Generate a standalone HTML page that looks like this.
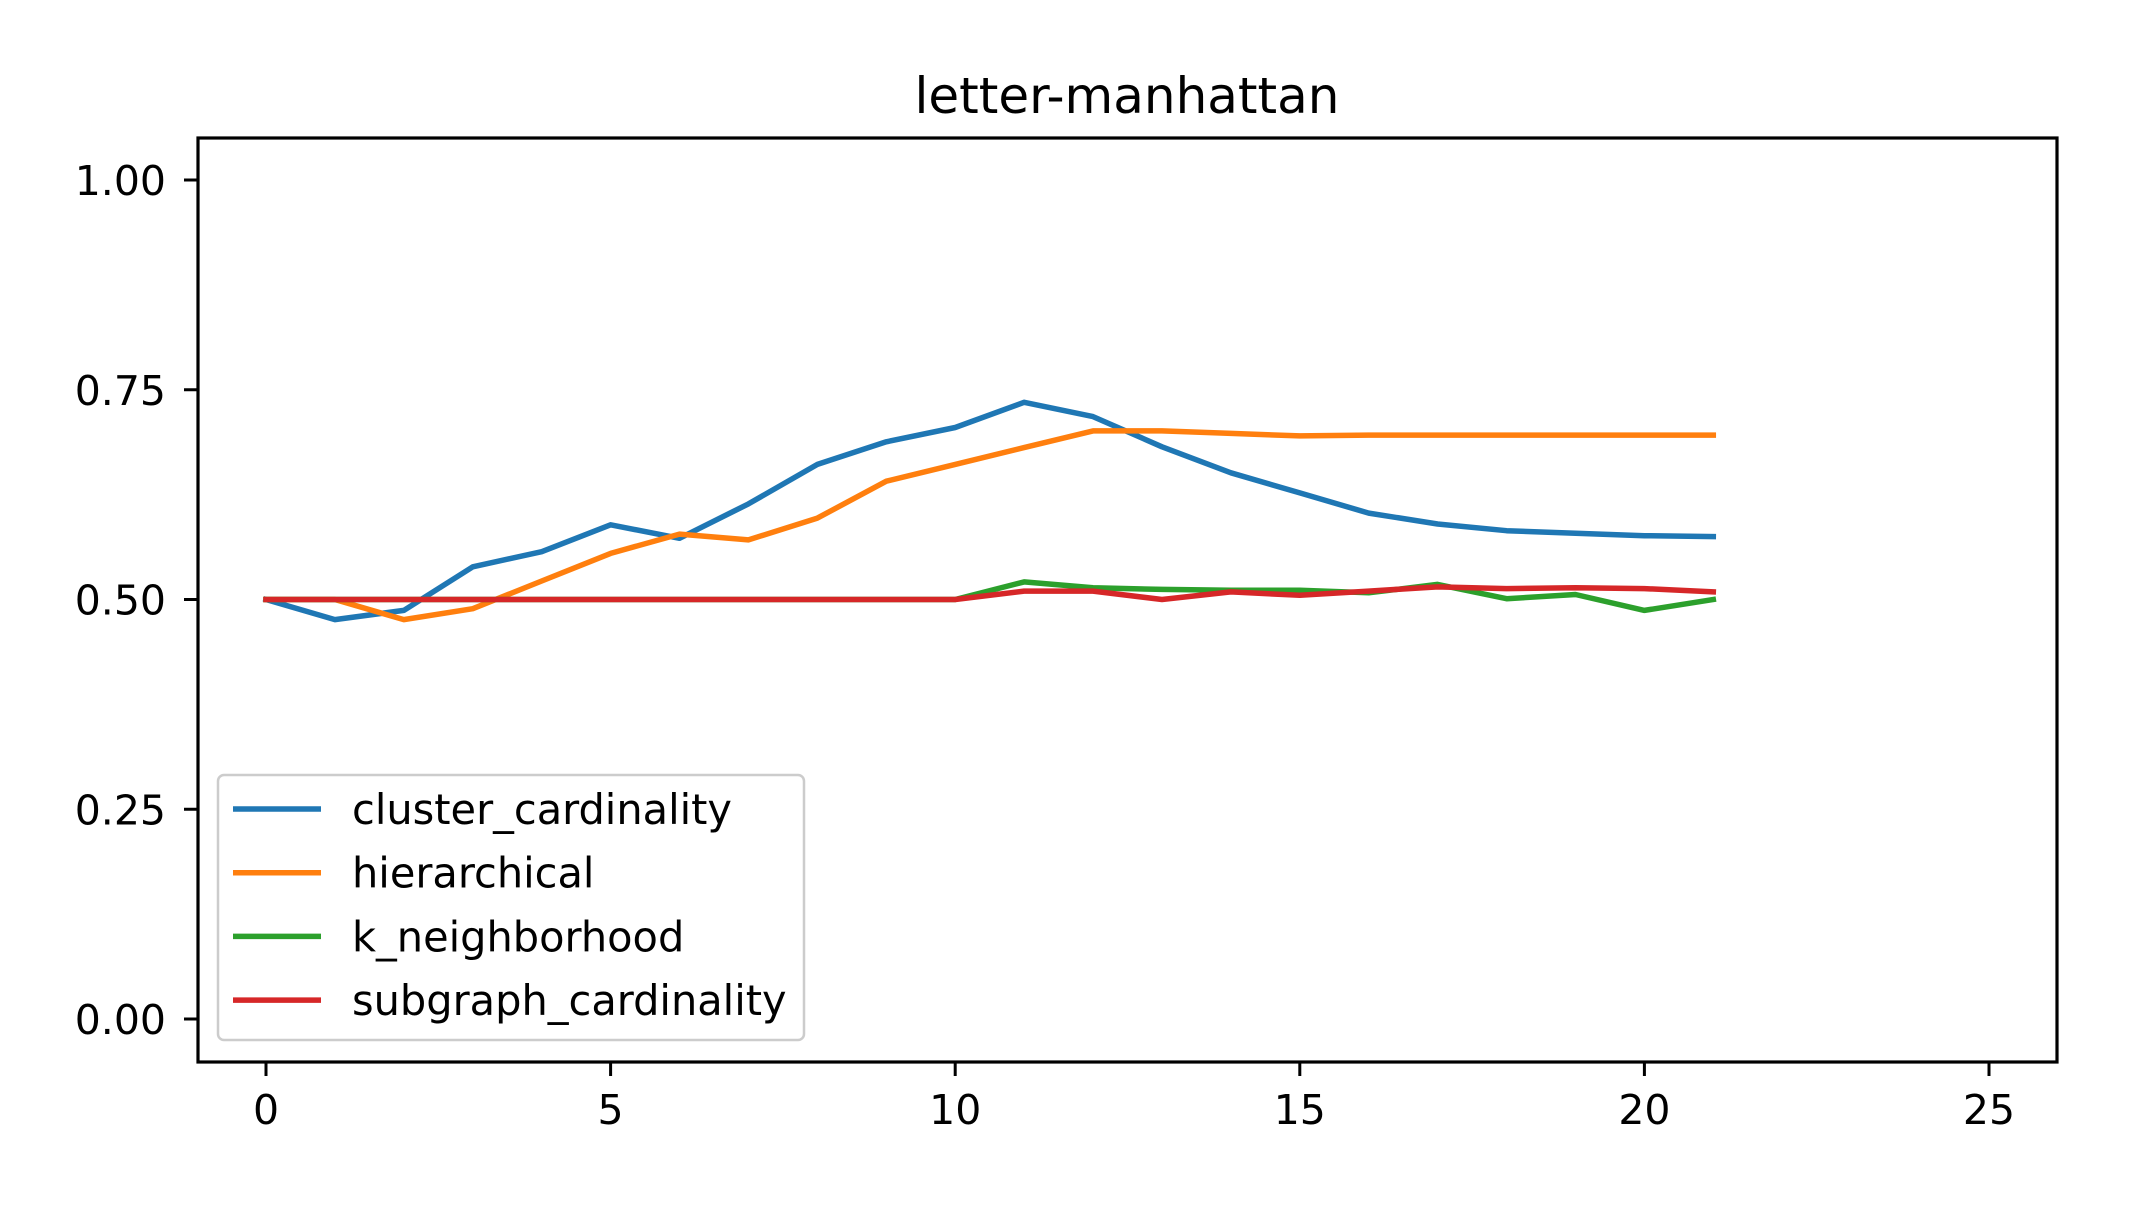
<!DOCTYPE html>
<html><head><meta charset="utf-8"><style>
html,body{margin:0;padding:0;background:#fff}
svg text{font-family:"DejaVu Sans","Liberation Sans",sans-serif;fill:#000}
</style></head><body>
<svg id="chart" width="2131" height="1208" viewBox="0 0 2131 1208" xmlns="http://www.w3.org/2000/svg">
<rect width="2131" height="1208" fill="#fff"/>
<text x="1127" y="113" font-size="50" text-anchor="middle">letter-manhattan</text>
<g id="plot"></g>
<rect x="198" y="138" width="1859" height="924" fill="none" stroke="#000" stroke-width="3.2"/>
<g id="legend"></g>
</svg>
<script>
const xs = [0,1,2,3,4,5,6,7,8,9,10,11,12,13,14,15,16,17,18,19,20,21];
const clusterCard = [0.50,0.476,0.487,0.539,0.557,0.589,0.573,0.614,0.661,0.688,0.705,0.735,0.718,0.682,0.651,0.627,0.603,0.590,0.582,0.579,0.576,0.575];
const hierarchical = [0.50,0.50,0.476,0.489,0.522,0.555,0.578,0.571,0.597,0.641,0.661,0.681,0.701,0.701,0.698,0.695,0.696,0.696,0.696,0.696,0.696,0.696];
const kNeighborhood = [0.50,0.50,0.50,0.50,0.50,0.50,0.50,0.50,0.50,0.50,0.50,0.521,0.514,0.512,0.511,0.511,0.508,0.518,0.501,0.506,0.487,0.500];
const subgraphCard = [0.50,0.50,0.50,0.50,0.50,0.50,0.50,0.50,0.50,0.50,0.50,0.510,0.510,0.500,0.509,0.505,0.510,0.515,0.513,0.514,0.513,0.509];
const seriesNames = ["cluster_cardinality","hierarchical","k_neighborhood","subgraph_cardinality"];
const xTicks = [0,5,10,15,20,25];
const yTicks = [0,0.25,0.5,0.75,1.0];
const yTickLabels = ["0.00","0.25","0.50","0.75","1.00"];

const colors = ["#1f77b4","#ff7f0e","#2ca02c","#d62728"];
const NS = "http://www.w3.org/2000/svg";
const xScale = v => 266 + v * (1989 - 266) / 25;
const yScale = v => 1019 - v * (1019 - 180);
const plot = document.getElementById('plot');
const leg = document.getElementById('legend');
function mk(tag, attrs, parent){const e=document.createElementNS(NS,tag);for(const k in attrs)e.setAttribute(k,attrs[k]);parent.appendChild(e);return e;}

xTicks.forEach(t=>{
  const x=xScale(t);
  const l=mk('line',{x1:x,x2:x,y1:1062,y2:1076,stroke:'#000','stroke-width':3},plot);
  
  
  const tx=mk('text',{x:x,y:1124,'font-size':41,'text-anchor':'middle'},plot);
  tx.textContent=t;
  
  
});
yTicks.forEach((t,i)=>{
  const y=yScale(t);
  const l=mk('line',{x1:184,x2:198,y1:y,y2:y,stroke:'#000','stroke-width':3},plot);
  
  
  const tx=mk('text',{x:166,y:y+15,'font-size':41,'text-anchor':'end'},plot);
  tx.textContent=yTickLabels[i];
  
  
});
const allSeries=[clusterCard,hierarchical,kNeighborhood,subgraphCard];
allSeries.forEach((s,si)=>{
  const pts=s.map((v,i)=>xScale(xs[i]).toFixed(1)+','+yScale(v).toFixed(1)).join(' ');
  const p=mk('polyline',{points:pts,fill:'none',stroke:colors[si],'stroke-width':5.5,'stroke-linejoin':'round','stroke-linecap':'square'},plot);
  
  
});
const box=mk('rect',{x:218,y:775,width:586,height:265,rx:6,fill:'#fff','fill-opacity':0.8,stroke:'#ccc','stroke-width':2.5},leg);


seriesNames.forEach((n,i)=>{
  const y=809+i*63.7;
  const l=mk('line',{x1:233,x2:321,y1:y,y2:y,stroke:colors[i],'stroke-width':5.5},leg);
  
  
  const t=mk('text',{x:352,y:y+15,'font-size':41.5},leg);
  t.textContent=n;
  
  
});
</script>
</body></html>
